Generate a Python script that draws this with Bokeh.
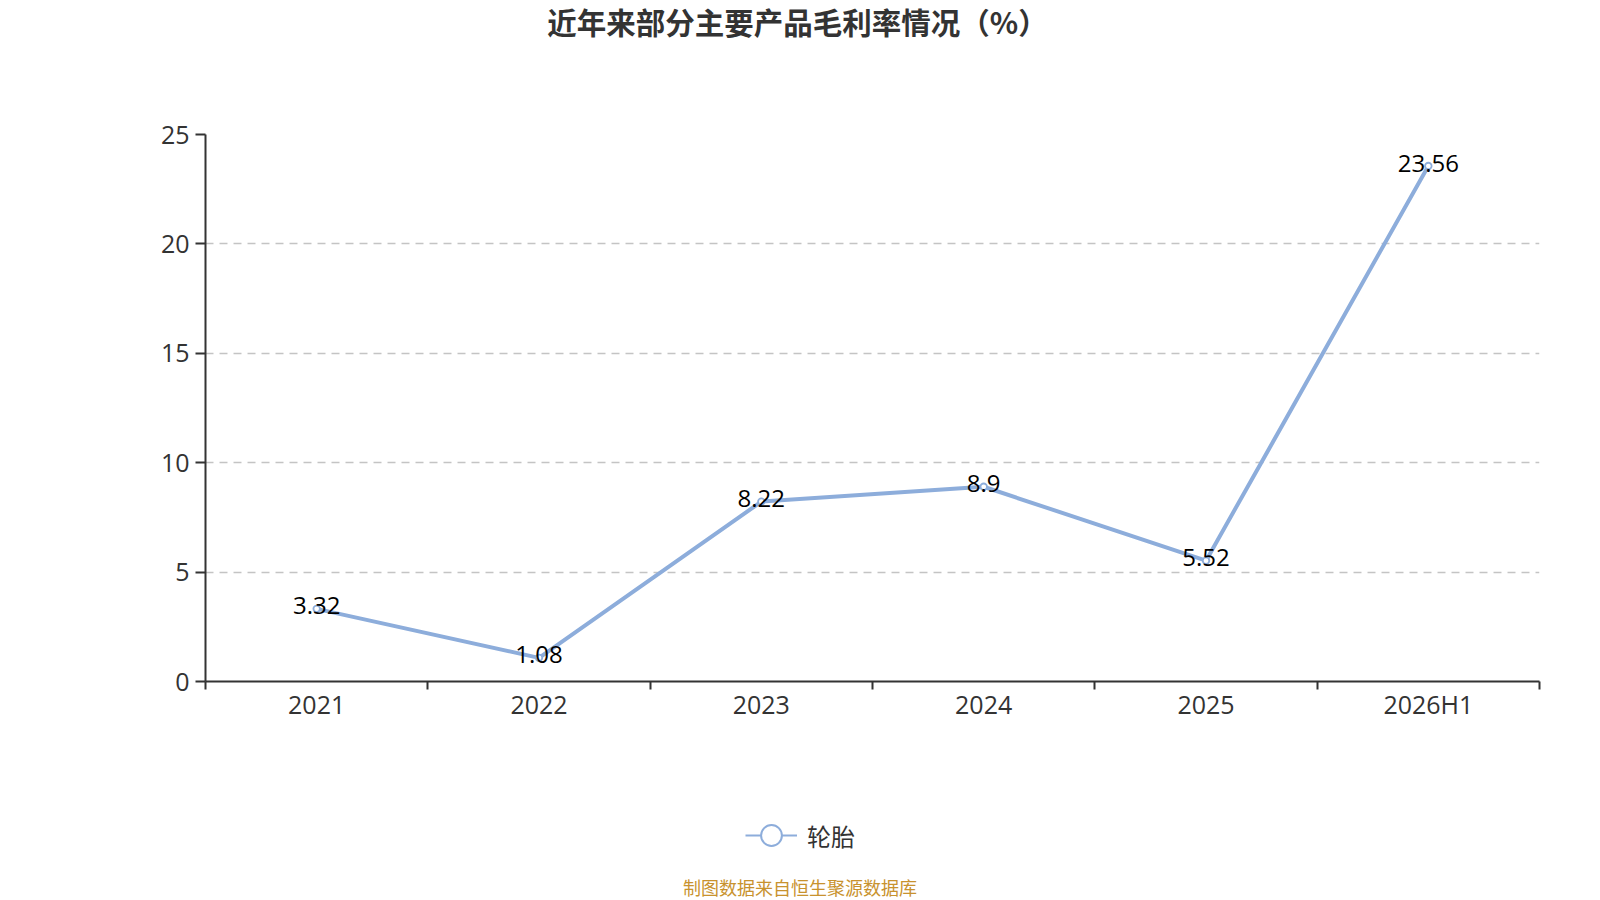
from bokeh.plotting import figure
from bokeh.layouts import column
from bokeh.models import (ColumnDataSource, FixedTicker, Legend, LegendItem, Range1d)
from bokeh.core.properties import value
from bokeh.embed import file_html
from bokeh.resources import INLINE

# ---- data ----
categories = ["2021", "2022", "2023", "2024", "2025", "2026H1"]
margin_tyre = [3.32, 1.08, 8.22, 8.9, 5.52, 23.56]
label_texts = ["3.32", "1.08", "8.22", "8.9", "5.52", "23.56"]
y_ticks = [0, 5, 10, 15, 20, 25]
series_name = "轮胎"
title_text = "近年来部分主要产品毛利率情况（%）"
source_text = "制图数据来自恒生聚源数据库"

LINE_COLOR = "#8DADDB"
AXIS_COLOR = "#333333"
NUM_FONT = "Open Sans"
CJK_FONT = "Noto Sans CJK SC"

W = 1600
L, R, T, B = 205, 61, 20, 45
H_TOP = 134 - T          # title strip
H_MAIN = T + 547 + B     # chart
H_BOT = 900 - H_TOP - H_MAIN  # legend + source strip
FL, FR = L, W - R        # frame left / right in page pixels


def blank_fig(h):
    f = figure(width=W, height=h, output_backend="svg", toolbar_location=None,
               x_range=Range1d(FL, FR), y_range=Range1d(0, h),
               min_border_left=L, min_border_right=R, min_border_top=0, min_border_bottom=0,
               x_axis_location=None, y_axis_location=None)
    f.outline_line_color = None
    f.grid.visible = False
    f.border_fill_color = "white"
    f.background_fill_color = "white"
    return f


# ---- title strip ----
top = blank_fig(H_TOP)
top.text(x=[797], y=[H_TOP - 20.5], text=[title_text], text_align="center",
         text_baseline="middle", text_font=value(CJK_FONT), text_font_size="29.5px",
         text_font_style="bold", text_color=AXIS_COLOR)

# ---- main chart ----
x_pos = [i + 0.5 for i in range(len(categories))]
src = ColumnDataSource(dict(x=x_pos, y=margin_tyre, t=label_texts))

p = figure(width=W, height=H_MAIN, output_backend="svg", toolbar_location=None,
           x_range=Range1d(0, len(categories)), y_range=Range1d(0, 25),
           min_border_left=L, min_border_right=R, min_border_top=T, min_border_bottom=B)
p.outline_line_color = None
p.background_fill_color = "white"
p.border_fill_color = "white"

xa = p.xaxis[0]
xa.ticker = FixedTicker(ticks=x_pos, minor_ticks=list(range(len(categories) + 1)))
xa.major_label_overrides = {x: c for x, c in zip(x_pos, categories)}
xa.major_tick_line_color = None
xa.major_tick_out = 8
xa.major_tick_in = 0
xa.minor_tick_out = 8
xa.minor_tick_in = 0
xa.minor_tick_line_color = AXIS_COLOR
xa.minor_tick_line_width = 2
xa.axis_line_color = AXIS_COLOR
xa.axis_line_width = 2
xa.major_label_text_font = NUM_FONT
xa.major_label_text_font_size = "25px"
xa.major_label_text_color = AXIS_COLOR
xa.major_label_standoff = -3

ya = p.yaxis[0]
ya.ticker = FixedTicker(ticks=y_ticks, minor_ticks=[])
ya.major_tick_out = 10
ya.major_tick_in = 0
ya.major_tick_line_color = AXIS_COLOR
ya.major_tick_line_width = 2
ya.axis_line_color = AXIS_COLOR
ya.axis_line_width = 2
ya.major_label_text_font = NUM_FONT
ya.major_label_text_font_size = "25px"
ya.major_label_text_color = AXIS_COLOR
ya.major_label_standoff = 6

p.xgrid.grid_line_color = None
p.ygrid.ticker = FixedTicker(ticks=y_ticks[1:])
p.ygrid.grid_line_color = "#C4C4C4"
p.ygrid.grid_line_dash = "8 6"
p.ygrid.grid_line_width = 1.7

p.line("x", "y", source=src, line_color=LINE_COLOR, line_width=4)
p.scatter("x", "y", source=src, size=6.5, marker="circle", fill_color="white",
          line_color=LINE_COLOR, line_width=1.8)
p.text("x", "y", text="t", source=src, text_align="center", text_baseline="middle",
       y_offset=-3, text_font=value(NUM_FONT), text_font_size="24px", text_color="#000000")

# ---- legend + source strip ----
bot = blank_fig(H_BOT)
nan = float("nan")
dummy_line = bot.line([nan], [nan], line_color=LINE_COLOR, line_width=2)
dummy_circ = bot.scatter([nan], [nan], marker="circle", fill_color="white",
                         line_color=LINE_COLOR, line_width=2)
legend = Legend(items=[LegendItem(label=series_name, renderers=[dummy_line, dummy_circ])],
                location=(745 - FL, H_BOT - 109.3 - 29), glyph_width=52, glyph_height=58,
                padding=0, margin=0, border_line_color=None,
                background_fill_color=None, label_text_font=CJK_FONT,
                label_text_font_size="24px", label_text_color=AXIS_COLOR,
                label_standoff=10)
bot.add_layout(legend)
bot.text(x=[799.5], y=[14], text=[source_text], text_align="center",
         text_baseline="middle", text_font=value(CJK_FONT), text_font_size="18px",
         text_color="#C8922E")

layout = column(top, p, bot, spacing=0)
open("out.html", "w").write(file_html(layout, INLINE))
